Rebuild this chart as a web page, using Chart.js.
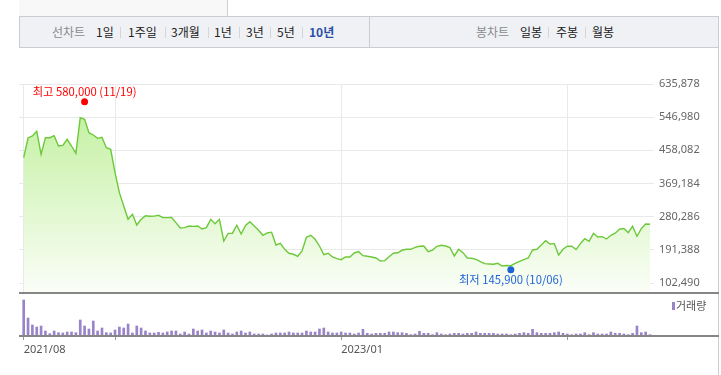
<!DOCTYPE html>
<html><head><meta charset="utf-8">
<script src="https://cdn.jsdelivr.net/npm/chart.js@4.4.1/dist/chart.umd.min.js"></script>
<style>
html,body{margin:0;padding:0;background:#fff;}
#wrap{position:relative;width:721px;height:375px;overflow:hidden;font-family:"Noto Sans CJK KR","Noto Sans",sans-serif;}
canvas{position:absolute;left:0;top:0;}
.hdr{position:absolute;left:19px;top:0;width:209px;height:16px;background:#f8f8f8;border-right:1px solid #d0d0d0;box-sizing:border-box;}
.tabs{position:absolute;left:19px;top:16px;width:700px;height:32px;background:#eff1f5;border:1px solid #c9ccd2;box-sizing:border-box;}
.div{position:absolute;left:369px;top:16px;width:1px;height:32px;background:#c9ccd2;}
.t{position:absolute;top:24px;font-size:12px;line-height:16px;color:#222;white-space:nowrap;}
.g{color:#8a8a8a;}
.sel{color:#2b4fa8;font-weight:bold;}
.sep{position:absolute;top:27px;width:1px;height:11px;background:#d3d5da;}
.hl{position:absolute;left:19px;width:700px;height:2px;background:#868686;}
.rb{position:absolute;left:718px;top:16px;width:1px;height:359px;background:#c9ccd2;}
.leg{position:absolute;left:672px;top:302px;width:3px;height:8px;background:#9a84c9;}
.legt{position:absolute;left:676px;top:298px;font-size:11px;line-height:15px;color:#555;}
</style>
</head><body>
<div id="wrap">
<canvas id="price" width="721" height="375"></canvas>
<canvas id="vol" width="721" height="375"></canvas>
<div class="hdr"></div>
<div class="tabs"></div>
<div class="div"></div>
<span class="t g" style="left:52px">선차트</span>
<span class="t" style="left:96px">1일</span><div class="sep" style="left:120px"></div>
<span class="t" style="left:128px">1주일</span><div class="sep" style="left:165px"></div>
<span class="t" style="left:171px">3개월</span><div class="sep" style="left:208px"></div>
<span class="t" style="left:214px">1년</span><div class="sep" style="left:239px"></div>
<span class="t" style="left:246px">3년</span><div class="sep" style="left:270px"></div>
<span class="t" style="left:277px">5년</span><div class="sep" style="left:302px"></div>
<span class="t sel" style="left:309px">10년</span>
<span class="t g" style="left:476px">봉차트</span>
<span class="t" style="left:520px">일봉</span><div class="sep" style="left:548px"></div>
<span class="t" style="left:556px">주봉</span><div class="sep" style="left:585px"></div>
<span class="t" style="left:592px">월봉</span>
<div class="rb"></div>
<div class="hl" style="top:292px"></div>
<div class="hl" style="top:335px"></div>
<div class="leg"></div><span class="legt">거래량</span>
</div>
<script>
// weekly closing prices (index 0 = first week, Aug 2021)
const prices = [
438400,491200,496500,509000,447500,492000,492000,497300,469700,471500,
487600,469700,450000,545600,541300,505400,499200,490300,493000,465200,
460900,398200,344600,308900,273200,286600,258000,273200,282500,281300,
281800,283900,277600,277600,278000,264200,250000,251000,255300,254400,
255300,247300,251000,273200,261500,273200,215100,235600,236000,257200,
233900,256900,266800,255300,243800,230400,236600,238700,204400,208900,
192900,182200,179500,174100,188300,225000,230400,219600,201700,178400,
182200,172200,167700,165000,172200,172200,183000,186500,175700,174100,
172200,169600,161500,162500,173000,182200,183400,190200,192900,192900,
198200,200900,201700,186500,190700,200900,203600,201700,197400,174900,
192900,183800,169600,168700,166000,159700,154300,153500,152700,155200,
148100,149500,148800,155200,160600,165000,169600,191000,192900,204400,
215900,207000,208000,177600,192900,200900,200900,192000,208000,221300,
214100,235700,225800,226700,220400,230400,236000,246500,248300,237500,
254500,227700,248300,260700,259800];
// weekly volume (relative units)
const volumes = [
10800,5400,3300,2700,3000,1500,700,1500,1000,900,
1200,1200,1000,4800,3000,2100,4500,1500,2400,1000,
900,1800,2700,2400,3600,900,3000,2400,1500,900,
900,1100,900,1200,1500,1500,600,1200,600,2100,
1500,1800,900,1500,1200,900,1800,900,600,1200,
1500,900,1200,600,600,600,300,600,900,900,
900,1200,900,900,900,1500,1200,1200,2100,2400,
1200,900,900,1200,900,900,600,900,2000,800,
600,800,800,800,1200,1200,1000,1000,800,400,
600,1400,800,800,400,1000,600,400,600,800,
800,600,800,800,1200,800,800,800,800,600,
600,600,400,600,800,1000,800,2000,1000,800,
800,800,1000,1200,800,600,400,600,600,1000,
400,1000,600,600,600,1200,800,800,600,400,
800,3000,1000,1200,400];
const yTicks = [102490,191388,280286,369184,458082,546980,635878];
const xTickIdx = [0,21,73,125];
const xTickLabels = ['2021/08','','2023/01',''];
const markIdx = [14,112];
const markValue = [580000,145900];
const markLabel = ['최고 580,000 (11/19)','최저 145,900 (10/06)'];
const markColor = ['#ff0000','#1d63d8'];
const markSide = [-1,1];

const X_MIN = -1.08, X_MAX = 144.92;
const fontNum = '"Noto Sans", "Noto Sans CJK KR", sans-serif';

const markPlugin = {
  id:'marks',
  afterDatasetsDraw(chart){
    const {ctx, scales:{x,y}} = chart;
    markIdx.forEach((idx,k)=>{
      const px = x.getPixelForValue(idx);
      const py = y.getPixelForValue(markValue[k]) + 3*markSide[k];
      ctx.save();
      ctx.fillStyle = markColor[k];
      ctx.beginPath(); ctx.arc(px, py, 3.5, 0, Math.PI*2); ctx.fill();
      ctx.font = '11.3px "Noto Sans CJK KR", "Noto Sans", sans-serif';
      ctx.textAlign = 'center'; ctx.textBaseline = 'middle';
      ctx.fillText(markLabel[k], px, py + 10*markSide[k]);
      ctx.restore();
    });
  }
};

new Chart(document.getElementById('price'), {
  type:'line',
  data:{datasets:[{
    data: prices.map((v,i)=>({x:i,y:v})),
    borderColor:'#6cc93a', borderWidth:1.4, pointRadius:0, tension:0,
    fill:'start',
    backgroundColor:(c)=>{
      const a = c.chart.chartArea; if(!a) return 'rgba(190,240,150,0.6)';
      const g = c.chart.ctx.createLinearGradient(0,a.top,0,a.bottom);
      g.addColorStop(0,'#bcef95'); g.addColorStop(0.5,'#dbf6c6'); g.addColorStop(1,'#fbfef8');
      return g;
    }
  }]},
  options:{
    responsive:false, animation:false, devicePixelRatio:1,
    layout:{padding:{left:19,top:84,right:0,bottom:82}},
    plugins:{legend:{display:false},tooltip:{enabled:false}},
    scales:{
      x:{type:'linear',min:X_MIN,max:X_MAX,position:'bottom',offset:false,
        afterBuildTicks:s=>{s.ticks = xTickIdx.map(v=>({value:v}));},
        afterFit:s=>{s.height=0;},
        ticks:{display:false},
        grid:{color:'#e9e9e9',drawTicks:false,offset:false},
        border:{display:false}},
      y:{position:'right',min:75687,max:635878,
        afterBuildTicks:s=>{s.ticks = yTicks.map(v=>({value:v}));},
        afterFit:s=>{s.width=67;},
        ticks:{padding:5,color:'#666',font:{family:fontNum,size:11},
          callback:v=>v.toLocaleString('en-US')},
        grid:{color:'#e9e9e9',drawTicks:false},
        border:{display:false}}
    }
  },
  plugins:[markPlugin]
});

new Chart(document.getElementById('vol'), {
  type:'bar',
  data:{datasets:[{
    data: volumes.map((v,i)=>({x:i,y:v})),
    backgroundColor:'#9a84c9', barThickness:2
  }]},
  options:{
    responsive:false, animation:false, devicePixelRatio:1,
    layout:{padding:{left:19,top:294,right:67,bottom:0}},
    plugins:{legend:{display:false},tooltip:{enabled:false}},
    scales:{
      x:{type:'linear',min:X_MIN,max:X_MAX,position:'bottom',offset:false,
        afterBuildTicks:s=>{s.ticks = xTickIdx.map(v=>({value:v}));},
        afterFit:s=>{s.height=39;},
        ticks:{align:'start',padding:3,maxRotation:0,autoSkip:false,color:'#555',
          font:{family:fontNum,size:11},
          callback:(v)=>{const k = xTickIdx.indexOf(v); return k>=0 ? xTickLabels[k] : '';}},
        grid:{display:true,offset:false,drawOnChartArea:false,drawTicks:true,tickLength:4,color:'#999'},
        border:{display:false}},
      y:{display:false,min:0,max:12600}
    }
  }
});
</script>
</body></html>
